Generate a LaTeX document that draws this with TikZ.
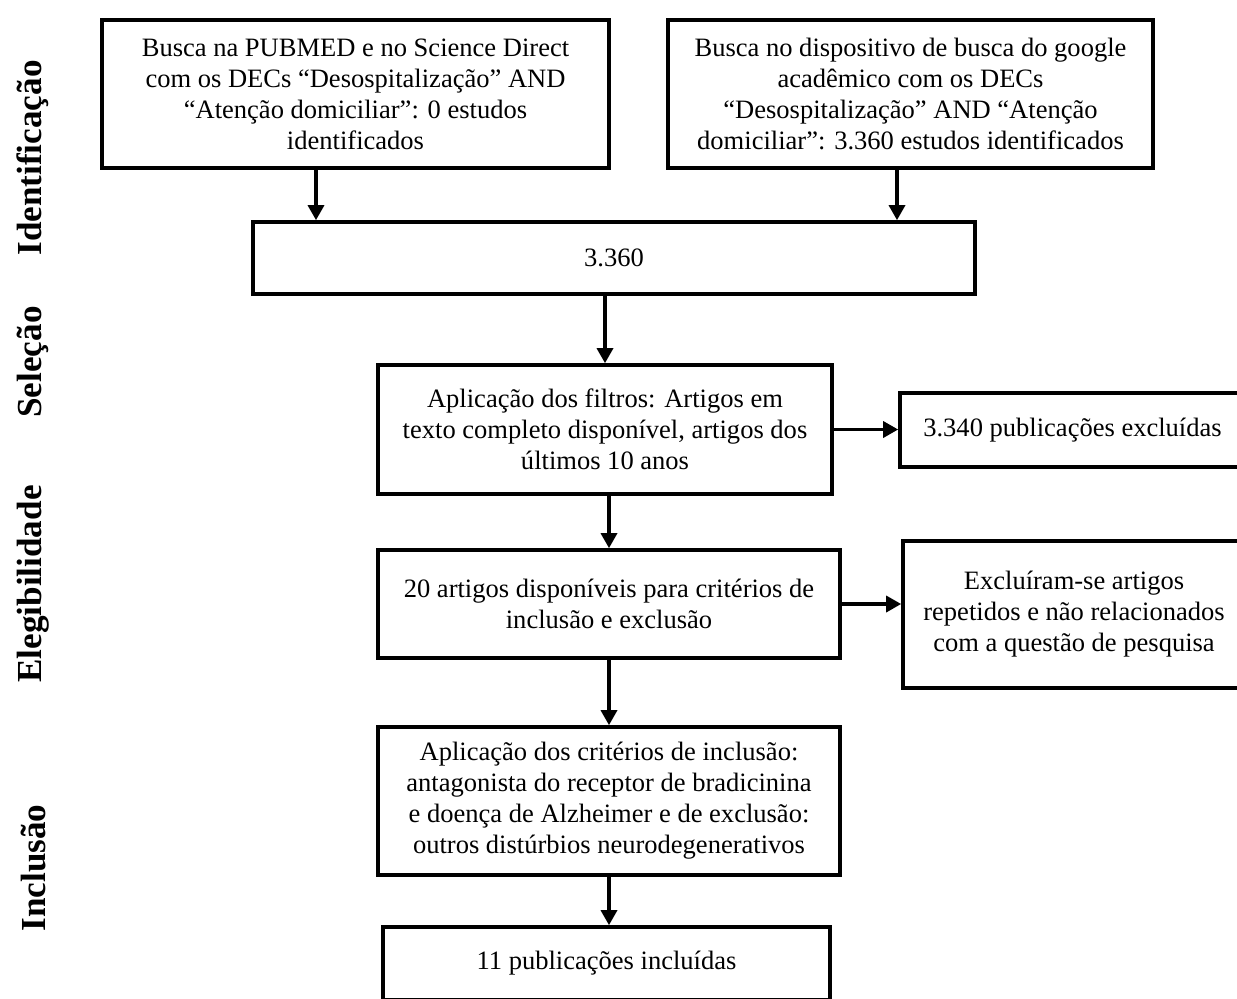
\documentclass[tikz,border=0pt]{standalone}
\usepackage{fontspec}
\setmainfont{Liberation Serif}
\usetikzlibrary{arrows.meta}
\tikzset{>={Triangle[length=0.3cm,width=0.32cm]}}
\tikzstyle{none}=[inner sep=0pt]
\tikzstyle{box}=[draw=black,line width=2.1pt,align=center,inner sep=0pt,font=\fontsize{15.1}{17.6}\selectfont]
\tikzstyle{phase}=[inner sep=0pt,rotate=90,font=\fontsize{20}{23}\selectfont\bfseries]
\tikzstyle{arrow}=[->,draw=black,line width=1.9pt]
\pgfdeclarelayer{edgelayer}
\pgfdeclarelayer{nodelayer}
\pgfsetlayers{edgelayer,nodelayer,main}

\begin{document}
\begin{tikzpicture}[x=0.02cm,y=-0.02cm]
	\useasboundingbox (0, 0) rectangle (1237, 998);
	\begin{pgfonlayer}{nodelayer}
		\node [style=box, minimum width=10.14cm, minimum height=2.96cm] (0) at (355.5, 94) {Busca na PUBMED e no Science Direct\\com os DECs “Desospitalização” AND\\“Atenção domiciliar”: 0 estudos\\identificados};
		\node [style=box, minimum width=9.70cm, minimum height=2.96cm] (1) at (910.5, 94) {Busca no dispositivo de busca do google\\acadêmico com os DECs\\“Desospitalização” AND “Atenção\\domiciliar”: 3.360 estudos identificados};
		\node [style=box, minimum width=14.44cm, minimum height=1.44cm] (2) at (614, 258) {3.360};
		\node [style=box, minimum width=9.08cm, minimum height=2.58cm] (3) at (605, 429.5) {Aplicação dos filtros: Artigos em\\texto completo disponível, artigos dos\\últimos 10 anos};
		\node [style=box, minimum width=6.90cm, minimum height=1.48cm] (4) at (1072.5, 430) {3.340 publicações excluídas};
		\node [style=box, minimum width=9.24cm, minimum height=2.16cm] (5) at (609, 604) {20 artigos disponíveis para critérios de\\inclusão e exclusão};
		\node [style=box, minimum width=6.84cm, minimum height=2.94cm] (6) at (1074, 614.5) {Excluíram-se artigos\\repetidos e não relacionados\\com a questão de pesquisa};
		\node [style=box, minimum width=9.24cm, minimum height=2.96cm] (7) at (609, 801) {Aplicação dos critérios de inclusão:\\antagonista do receptor de bradicinina\\e doença de Alzheimer e de exclusão:\\outros distúrbios neurodegenerativos};
		\node [style=box, minimum width=8.94cm, minimum height=1.46cm] (8) at (606.5, 963.5) {11 publicações incluídas};
		\coordinate (9) at (316, 195);
		\coordinate (10) at (897, 195);

		\node [style=phase] (11) at (33, 158) {Identificação};
		\node [style=phase] (12) at (33, 362) {Seleção};
		\node [style=phase] (13) at (33, 584) {Elegibilidade};
		\node [style=phase] (14) at (33, 868) {Inclusão};
	\end{pgfonlayer}
	\begin{pgfonlayer}{edgelayer}
		\draw [style=arrow] (0.south -| 9) to (2.north -| 9);
		\draw [style=arrow] (1.south -| 10) to (2.north -| 10);
		\draw [style=arrow] (2.south -| 3) to (3.north);
		\draw [style=arrow] (3.east) to (3.east -| 4.west);
		\draw [style=arrow] (5.north |- 3.south) to (5.north);
		\draw [style=arrow] (5.east) to (5.east -| 6.west);
		\draw [style=arrow] (5.south) to (7.north);
		\draw [style=arrow] (7.south) to (7.south |- 8.north);
	\end{pgfonlayer}
\end{tikzpicture}
\end{document}
